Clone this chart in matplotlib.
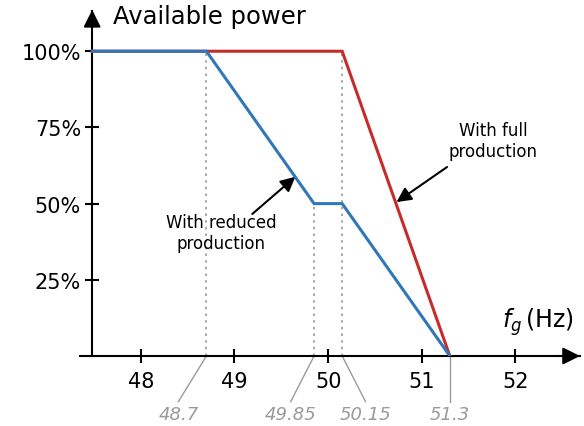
import matplotlib
matplotlib.use("Agg")
import matplotlib.pyplot as plt

plt.rcParams['font.family'] = ['DejaVu Sans']

# frequency breakpoints (Hz) and available power (%)
full_freq = [47.48, 48.7, 50.15, 51.3]
full_power = [100, 100, 100, 0]
reduced_freq = [47.48, 48.7, 49.85, 50.15, 51.3]
reduced_power = [100, 100, 50, 50, 0]

x_ticks = [48, 49, 50, 51, 52]
y_ticks = [25, 50, 75, 100]
y_labels = ['25%', '50%', '75%', '100%']

# marked breakpoints: (frequency, height of the dotted guide, label x position)
marks = [(48.7, 100, 48.4), (49.85, 50, 49.6), (50.15, 100, 50.4), (51.3, 0, 51.3)]

red = '#c62d2a'
blue = '#3077ba'
gray = '#9a9a9a'

fig = plt.figure(figsize=(5.84, 4.27), dpi=100)
ax = fig.add_axes([80 / 584, 70 / 427, 500 / 584, 345 / 427])
ax.set_xlim(47.35, 52.69)
ax.set_ylim(0, 113.2)

for s in ['top', 'right']:
    ax.spines[s].set_visible(False)
ax.spines['left'].set_position(('data', 47.48))
ax.spines['left'].set_linewidth(1.5)
ax.spines['bottom'].set_linewidth(1.5)

ax.set_xticks(x_ticks)
ax.set_xticklabels([str(t) for t in x_ticks])
ax.set_yticks(y_ticks)
ax.set_yticklabels(y_labels)
ax.tick_params(axis='both', direction='inout', length=10, width=1.5, labelsize=15)
ax.tick_params(axis='x', pad=6)
ax.tick_params(axis='y', pad=3)

# axis arrow heads
arrow = dict(arrowstyle='-|>', color='black', lw=1.5, mutation_scale=26)
ax.annotate('', xy=(52.72, 0), xytext=(52.4, 0), arrowprops=arrow, annotation_clip=False)
ax.annotate('', xy=(47.48, 114.5), xytext=(47.48, 108), arrowprops=arrow, annotation_clip=False)

# dotted guides and grey breakpoint labels below the axis
for f, h, lx in marks:
    if h > 0:
        ax.plot([f, f], [0, h], ls=(0, (1.5, 2.5)), color=gray, lw=1.2, zorder=1)
    ax.plot([f, lx], [0, -15], color=gray, lw=1.0, clip_on=False)
    ax.text(lx, -19, f'{f:g}', ha='center', va='center', fontsize=13,
            style='italic', color=gray, clip_on=False)

ax.plot(full_freq, full_power, color=red, lw=2.2, zorder=3, solid_joinstyle='miter')
ax.plot(reduced_freq, reduced_power, color=blue, lw=2.2, zorder=4, solid_joinstyle='miter')

# callouts
pointer = dict(arrowstyle='-|>', color='black', lw=1.5, mutation_scale=22,
               shrinkA=0, shrinkB=0)
ax.text(51.76, 70.8, 'With full\nproduction', ha='center', va='center',
        fontsize=12, linespacing=1.2)
ax.annotate('', xy=(50.73, 50.5), xytext=(51.27, 62.0), arrowprops=pointer)
ax.text(48.86, 40.5, 'With reduced\nproduction', ha='center', va='center',
        fontsize=12, linespacing=1.2)
ax.annotate('', xy=(49.65, 58.8), xytext=(49.19, 46.6), arrowprops=pointer)

ax.text(47.70, 111.5, 'Available power', fontsize=17.5, ha='left', va='center')
ax.text(52.62, 11.5, r'$f_g\,$(Hz)', fontsize=17, ha='right', va='center')

fig.savefig('out.png', dpi=100)
